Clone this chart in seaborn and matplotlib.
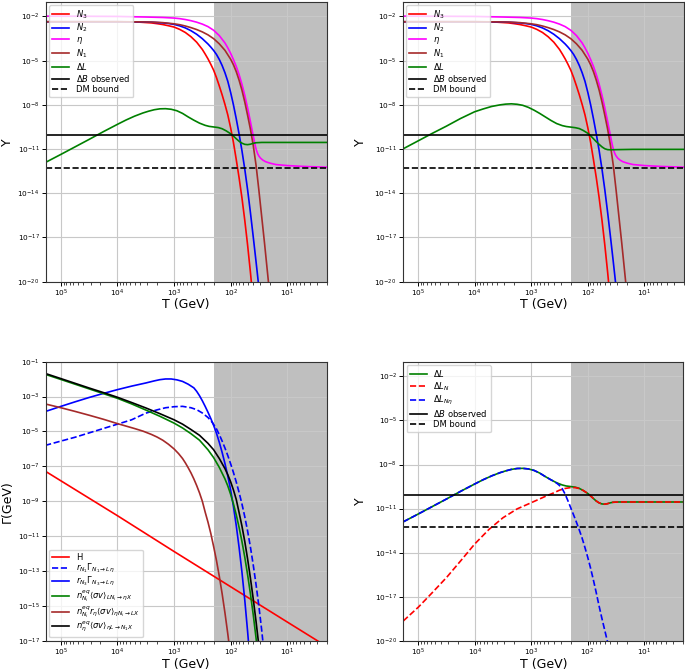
import numpy as np
import matplotlib
matplotlib.use("Agg")
import matplotlib.pyplot as plt
import seaborn as sns
from matplotlib.ticker import NullLocator, LogLocator

# ---------------- data (log10 values) ----------------
# Top panels: abundances Y vs T  (log10 T, log10 Y)
n3_logT = [5.27, 4.0, 3.8, 3.6, 3.4, 3.3, 3.2, 3.1, 3.0, 2.9, 2.8, 2.7, 2.6, 2.5, 2.45, 2.4, 2.35, 2.3,
           2.25, 2.2, 2.15, 2.1, 2.05, 2.0, 1.95, 1.9, 1.85, 1.8, 1.75, 1.7, 1.65, 1.6]
n3_logY = [-2.36, -2.36, -2.37, -2.39, -2.44, -2.49, -2.55, -2.63, -2.72, -2.88, -3.09, -3.38, -3.75, -4.24,
           -4.55, -4.88, -5.25, -5.65, -6.15, -6.72, -7.32, -7.97, -8.68, -9.55, -10.55, -11.72, -12.95,
           -14.3, -15.82, -17.5, -19.35, -21.35]

n2_logT = [5.27, 4.0, 3.6, 3.4, 3.2, 3.1, 3.0, 2.9, 2.8, 2.7, 2.6, 2.5, 2.4, 2.35, 2.3, 2.25, 2.2, 2.15,
           2.1, 2.05, 2.0, 1.95, 1.9, 1.85, 1.8, 1.75, 1.7, 1.65, 1.6, 1.55, 1.5]
n2_logY = [-2.36, -2.36, -2.37, -2.39, -2.44, -2.48, -2.54, -2.64, -2.78, -2.97, -3.21, -3.51, -3.87, -4.08,
           -4.31, -4.58, -4.92, -5.33, -5.82, -6.40, -7.15, -8.0, -8.95, -9.98, -11.1, -12.35, -13.75,
           -15.3, -16.95, -18.65, -20.4]

n1_logT = [5.27, 4.0, 3.6, 3.4, 3.2, 3.0, 2.9, 2.8, 2.7, 2.6, 2.5, 2.4, 2.3, 2.2, 2.1, 2.0, 1.95, 1.9,
           1.85, 1.8, 1.75, 1.7, 1.65, 1.6, 1.55, 1.5, 1.45, 1.4, 1.35, 1.3]
n1_logY = [-2.36, -2.36, -2.37, -2.38, -2.42, -2.50, -2.56, -2.65, -2.76, -2.89, -3.05, -3.25, -3.51, -3.86,
           -4.30, -4.90, -5.28, -5.75, -6.33, -7.0, -7.8, -8.7, -9.65, -10.75, -12.1, -13.8, -15.6,
           -17.4, -19.3, -21.2]

eta_logT = [5.27, 4.5, 4.0, 3.5, 3.2, 3.0, 2.9, 2.8, 2.7, 2.6, 2.5, 2.4, 2.3, 2.2, 2.1, 2.05, 2.0, 1.95,
            1.9, 1.85, 1.8, 1.75, 1.7, 1.65, 1.62, 1.6, 1.58, 1.56, 1.54, 1.52, 1.5, 1.47, 1.43, 1.38,
            1.3, 1.2, 1.0, 0.7, 0.3]
eta_logY = [-1.98, -1.99, -2.0, -2.04, -2.07, -2.11, -2.15, -2.21, -2.29, -2.39, -2.52, -2.69, -2.94, -3.3,
            -3.8, -4.13, -4.5, -4.93, -5.4, -5.95, -6.6, -7.35, -8.2, -9.13, -9.72, -10.1, -10.5, -10.85,
            -11.12, -11.33, -11.47, -11.62, -11.75, -11.86, -11.96, -12.05, -12.12, -12.18, -12.23]

dL_logT = [5.27, 5.0, 4.75, 4.5, 4.25, 4.0, 3.85, 3.7, 3.55, 3.45, 3.35, 3.25, 3.15, 3.05, 2.95, 2.85,
           2.75, 2.65, 2.55, 2.45, 2.38, 2.3, 2.22, 2.15, 2.08, 2.0, 1.95, 1.9, 1.85, 1.8, 1.75, 1.7,
           1.65, 1.6, 1.55, 1.45, 1.2, 0.3]
dL_logY = [-11.9, -11.36, -10.85, -10.34, -9.82, -9.32, -9.03, -8.77, -8.55, -8.43, -8.33, -8.27, -8.26,
           -8.30, -8.4, -8.58, -8.82, -9.04, -9.24, -9.39, -9.46, -9.5, -9.54, -9.62, -9.76, -9.96, -10.12,
           -10.3, -10.47, -10.6, -10.68, -10.7, -10.67, -10.61, -10.57, -10.55, -10.55, -10.55]

dL2_logT = [5.27, 5.0, 4.75, 4.5, 4.25, 4.0, 3.85, 3.7, 3.55, 3.45, 3.35, 3.25, 3.15, 3.05, 2.95, 2.85,
            2.75, 2.65, 2.55, 2.45, 2.38, 2.3, 2.22, 2.15, 2.08, 2.0, 1.95, 1.9, 1.85, 1.8, 1.75, 1.7,
            1.65, 1.6, 1.5, 1.2, 0.3]
dL2_logY = [-11.0, -10.45, -9.94, -9.45, -8.93, -8.47, -8.28, -8.11, -8.0, -7.95, -7.93, -7.96, -8.03,
            -8.17, -8.36, -8.58, -8.82, -9.06, -9.27, -9.41, -9.47, -9.51, -9.55, -9.61, -9.74, -9.93,
            -10.1, -10.3, -10.5, -10.68, -10.85, -10.98, -11.04, -11.05, -11.04, -11.02, -11.02]

dB_obs = 8.7e-11
dm_bound = 5.3e-13

# Bottom-left: rates Gamma vs T
H_logT = [5.28, 4.0, 3.0, 2.0, 1.0, 0.3]
H_logY = [-7.27, -9.83, -11.88, -13.9, -15.92, -17.33]

rN1_logT = [5.28, 5.0, 4.75, 4.5, 4.25, 4.0, 3.75, 3.5, 3.3, 3.15, 3.0, 2.85, 2.7, 2.6, 2.5, 2.4, 2.32,
            2.25, 2.2, 2.15, 2.1, 2.05, 2.0, 1.95, 1.9, 1.85, 1.8, 1.75, 1.7, 1.65, 1.6, 1.55, 1.5,
            1.45, 1.4]
rN1_logY = [-5.8, -5.55, -5.33, -5.08, -4.83, -4.58, -4.33, -3.95, -3.76, -3.64, -3.58, -3.56, -3.64,
            -3.75, -3.94, -4.2, -4.5, -4.85, -5.18, -5.55, -5.95, -6.38, -6.85, -7.35, -7.9, -8.5,
            -9.15, -9.88, -10.7, -11.62, -12.65, -13.78, -15.02, -16.4, -17.95]

rN3_logT = [5.28, 5.0, 4.75, 4.5, 4.25, 4.0, 3.75, 3.5, 3.35, 3.25, 3.15, 3.05, 2.95, 2.85, 2.75, 2.65,
            2.6, 2.55, 2.5, 2.45, 2.4, 2.35, 2.3, 2.25, 2.2, 2.15, 2.1, 2.05, 2.0, 1.95, 1.9, 1.85,
            1.8, 1.75, 1.7, 1.66]
rN3_logY = [-3.86, -3.56, -3.30, -3.05, -2.82, -2.6, -2.4, -2.22, -2.1, -2.03, -1.99, -1.99, -2.04, -2.13,
            -2.29, -2.5, -2.7, -2.95, -3.24, -3.56, -3.9, -4.26, -4.65, -5.1, -5.62, -6.2, -6.84,
            -7.55, -8.35, -9.3, -10.4, -11.65, -13.05, -14.65, -16.45, -18.0]

sLN_logT = [5.28, 5.0, 4.75, 4.5, 4.25, 4.0, 3.75, 3.5, 3.25, 3.0, 2.85, 2.7, 2.55, 2.4, 2.3, 2.2, 2.1,
            2.05, 2.0, 1.95, 1.9, 1.85, 1.8, 1.75, 1.7, 1.65, 1.6, 1.55, 1.5]
sLN_logY = [-1.72, -2.02, -2.29, -2.56, -2.83, -3.1, -3.42, -3.77, -4.13, -4.52, -4.8, -5.13, -5.5, -6.05,
            -6.5, -7.06, -7.72, -8.12, -8.6, -9.15, -9.78, -10.5, -11.3, -12.2, -13.2, -14.3, -15.5,
            -16.85, -18.3]

sEtaN_logT = [5.28, 5.0, 4.75, 4.5, 4.25, 4.0, 3.85, 3.7, 3.55, 3.4, 3.3, 3.2, 3.1, 3.0, 2.92, 2.85,
              2.8, 2.75, 2.7, 2.65, 2.6, 2.55, 2.5, 2.45, 2.4, 2.35, 2.3, 2.25, 2.2, 2.15, 2.1, 2.05, 2.0]
sEtaN_logY = [-3.42, -3.64, -3.85, -4.07, -4.3, -4.55, -4.69, -4.83, -4.98, -5.17, -5.32, -5.5, -5.73,
              -6.0, -6.27, -6.55, -6.8, -7.08, -7.38, -7.72, -8.1, -8.52, -9.0, -9.62, -10.2, -10.85,
              -11.6, -12.4, -13.3, -14.3, -15.4, -16.6, -17.9]

sEtaL_logT = [5.28, 5.0, 4.75, 4.5, 4.25, 4.0, 3.75, 3.5, 3.25, 3.0, 2.85, 2.7, 2.55, 2.4, 2.3, 2.2, 2.1,
              2.05, 2.0, 1.95, 1.9, 1.85, 1.8, 1.75, 1.7, 1.65, 1.6, 1.55, 1.5, 1.45]
sEtaL_logY = [-1.67, -1.97, -2.24, -2.51, -2.77, -3.04, -3.34, -3.65, -3.98, -4.33, -4.58, -4.89, -5.22,
              -5.68, -6.05, -6.55, -7.13, -7.48, -7.88, -8.35, -8.9, -9.65, -10.42, -11.3, -12.3, -13.4,
              -14.6, -15.9, -17.3, -18.8]

# Bottom-right: lepton asymmetry components
dLNeta_logT = [5.27, 5.0, 4.75, 4.5, 4.25, 4.0, 3.85, 3.7, 3.55, 3.45, 3.35, 3.25, 3.15, 3.05, 2.95,
               2.85, 2.75, 2.65, 2.6, 2.55, 2.5, 2.45, 2.4, 2.35, 2.3, 2.25, 2.2, 2.15, 2.1, 2.05, 2.0,
               1.95, 1.9, 1.85, 1.8, 1.75, 1.7, 1.65, 1.6]
dLNeta_logY = [-11.9, -11.36, -10.85, -10.34, -9.82, -9.32, -9.03, -8.77, -8.55, -8.43, -8.33, -8.27,
               -8.26, -8.30, -8.4, -8.58, -8.82, -9.04, -9.14, -9.26, -9.42, -9.64, -10.0, -10.45,
               -10.93, -11.41, -11.9, -12.42, -12.97, -13.6, -14.27, -15.0, -15.8, -16.65, -17.55,
               -18.4, -19.2, -20.0, -20.8]

dLN_logT = [5.27, 5.0, 4.75, 4.5, 4.25, 4.0, 3.75, 3.5, 3.25, 3.0, 2.75, 2.6, 2.5, 2.4, 2.3, 2.22,
            2.15, 2.08, 2.0, 1.95, 1.9, 1.85, 1.8, 1.75, 1.7, 1.65, 1.6, 1.55, 1.45, 1.2, 0.3]
dLN_logY = [-18.65, -17.7, -16.7, -15.68, -14.55, -13.4, -12.42, -11.62, -11.02, -10.6, -10.17, -9.93,
            -9.75, -9.63, -9.57, -9.57, -9.63, -9.76, -9.96, -10.12, -10.3, -10.47, -10.6, -10.68,
            -10.7, -10.67, -10.61, -10.57, -10.55, -10.55, -10.55]

# axes ranges / ticks
x_lim = (1.86e5, 2.0)
shade_T = 200.0
y_ticks_Y = [1e-2, 1e-5, 1e-8, 1e-11, 1e-14, 1e-17, 1e-20]
y_lim_Y = (1e-20, 1e-1)
y_ticks_G = [1e-1, 1e-3, 1e-5, 1e-7, 1e-9, 1e-11, 1e-13, 1e-15, 1e-17]
y_lim_G = (1e-17, 1e-1)
x_ticks = [1e5, 1e4, 1e3, 1e2, 1e1]

# ---------------- plotting ----------------
plt.rcParams['font.family'] = ['DejaVu Sans']
fig = plt.figure(figsize=(6.85, 6.72), dpi=100)

W, Hh = 685.0, 672.0
def box(l, r, t, b):
    return [l / W, 1 - b / Hh, (r - l) / W, (b - t) / Hh]

BOT = 640.8
ax_tl = fig.add_axes(box(45.7, 326.7, 1.7, 281.7))
ax_tr = fig.add_axes(box(402.7, 684.0, 1.7, 281.7))
ax_bl = fig.add_axes(box(45.7, 326.7, 361.7, BOT))
ax_br = fig.add_axes(box(403.3, 683.3, 361.7, BOT))

LW = 1.2
TICK_FS = 5.3
LAB_FS = 9.0
LEG_FS = 6.0

def line(ax, lt, ly, color, label, ls='-'):
    sns.lineplot(x=10.0 ** np.array(lt), y=10.0 ** np.array(ly), ax=ax,
                 color=color, label=label, linewidth=LW, linestyle=ls,
                 estimator=None, sort=False, legend=False)

def setup(ax, yticks, ylim, ylabel, ylab_x, xlab_y, xlab_va='top'):
    ax.set_xscale('log')
    ax.set_yscale('log')
    ax.axvspan(shade_T, 1e-3, color='gray', alpha=0.5, linewidth=0, zorder=1)
    ax.set_xlim(*x_lim)
    ax.set_ylim(*ylim)
    ax.set_xticks(x_ticks)
    ax.xaxis.set_minor_locator(LogLocator(base=10, subs=np.arange(2, 10)))
    ax.set_yticks(yticks)
    ax.yaxis.set_minor_locator(NullLocator())
    ax.grid(True, which='major', color='#c8c8c8', linewidth=0.8)
    ax.tick_params(labelsize=TICK_FS, length=3, width=0.7, pad=1.5)
    ax.tick_params(axis='x', pad=1)
    ax.tick_params(which='minor', length=1.8, width=0.5)
    ax.set_xlabel('T (GeV)', fontsize=LAB_FS, va=xlab_va)
    ax.set_ylabel(ylabel, fontsize=LAB_FS)
    ax.xaxis.set_label_coords(0.5, xlab_y)
    ax.yaxis.set_label_coords(ylab_x, 0.5)
    for s in ax.spines.values():
        s.set_linewidth(0.8)
        s.set_color('#333333')

for ax, dlt, dly, lx in [(ax_tl, dL_logT, dL_logY, -0.113), (ax_tr, dL2_logT, dL2_logY, -0.128)]:
    setup(ax, y_ticks_Y, y_lim_Y, 'Y', lx, -0.058)
    line(ax, n3_logT, n3_logY, 'red', r'$N_3$')
    line(ax, n2_logT, n2_logY, 'blue', r'$N_2$')
    line(ax, eta_logT, eta_logY, 'magenta', r'$\eta$')
    line(ax, n1_logT, n1_logY, 'brown', r'$N_1$')
    line(ax, dlt, dly, 'green', r'$\Delta L$')
    ax.axhline(dB_obs, color='black', linewidth=LW, label=r'$\Delta B$ observed')
    ax.axhline(dm_bound, color='black', linewidth=LW, linestyle='--', label='DM bound')
    ax.set_ylim(*y_lim_Y)
    ax.set_xlim(*x_lim)
    ax.legend(loc='upper left', fontsize=LEG_FS, borderaxespad=0.4, labelspacing=0.12)

# x label of the bottom row sits on the lower figure edge
bot_xlab_y = (BOT - 671.3) / (BOT - 361.7)

# bottom-left
setup(ax_bl, y_ticks_G, y_lim_G, 'Γ(GeV)', -0.113, bot_xlab_y, 'bottom')
line(ax_bl, H_logT, H_logY, 'red', 'H')
line(ax_bl, rN1_logT, rN1_logY, 'blue', r'$r_{N_1}\Gamma_{N_1\rightarrow L\eta}$', ls='--')
line(ax_bl, rN3_logT, rN3_logY, 'blue', r'$r_{N_3}\Gamma_{N_3\rightarrow L\eta}$')
line(ax_bl, sLN_logT, sLN_logY, 'green', r'$n^{eq}_{N_i}\langle\sigma v\rangle_{LN_i\rightarrow\eta X}$')
line(ax_bl, sEtaN_logT, sEtaN_logY, 'brown', r'$n^{eq}_{N_i}r_{\eta}\langle\sigma v\rangle_{\eta N_i\rightarrow LX}$')
line(ax_bl, sEtaL_logT, sEtaL_logY, 'black', r'$n^{eq}_{\eta}\langle\sigma v\rangle_{\eta L\rightarrow N_1X}$')
ax_bl.set_ylim(*y_lim_G)
ax_bl.set_xlim(*x_lim)
ax_bl.legend(loc='lower left', fontsize=LEG_FS, borderaxespad=0.4, labelspacing=0.0)

# bottom-right
setup(ax_br, y_ticks_Y, y_lim_Y, 'Y', -0.128, bot_xlab_y, 'bottom')
line(ax_br, dL_logT, dL_logY, 'green', r'$\Delta L$')
line(ax_br, dLN_logT, dLN_logY, 'red', r'$\Delta L_N$', ls='--')
line(ax_br, dLNeta_logT, dLNeta_logY, 'blue', r'$\Delta L_{N\eta}$', ls='--')
ax_br.axhline(dB_obs, color='black', linewidth=LW, label=r'$\Delta B$ observed')
ax_br.axhline(dm_bound, color='black', linewidth=LW, linestyle='--', label='DM bound')
ax_br.set_ylim(*y_lim_Y)
ax_br.set_xlim(*x_lim)
ax_br.legend(loc='upper left', fontsize=LEG_FS, borderaxespad=0.4, labelspacing=0.12)

fig.savefig('out.png', dpi=100)
